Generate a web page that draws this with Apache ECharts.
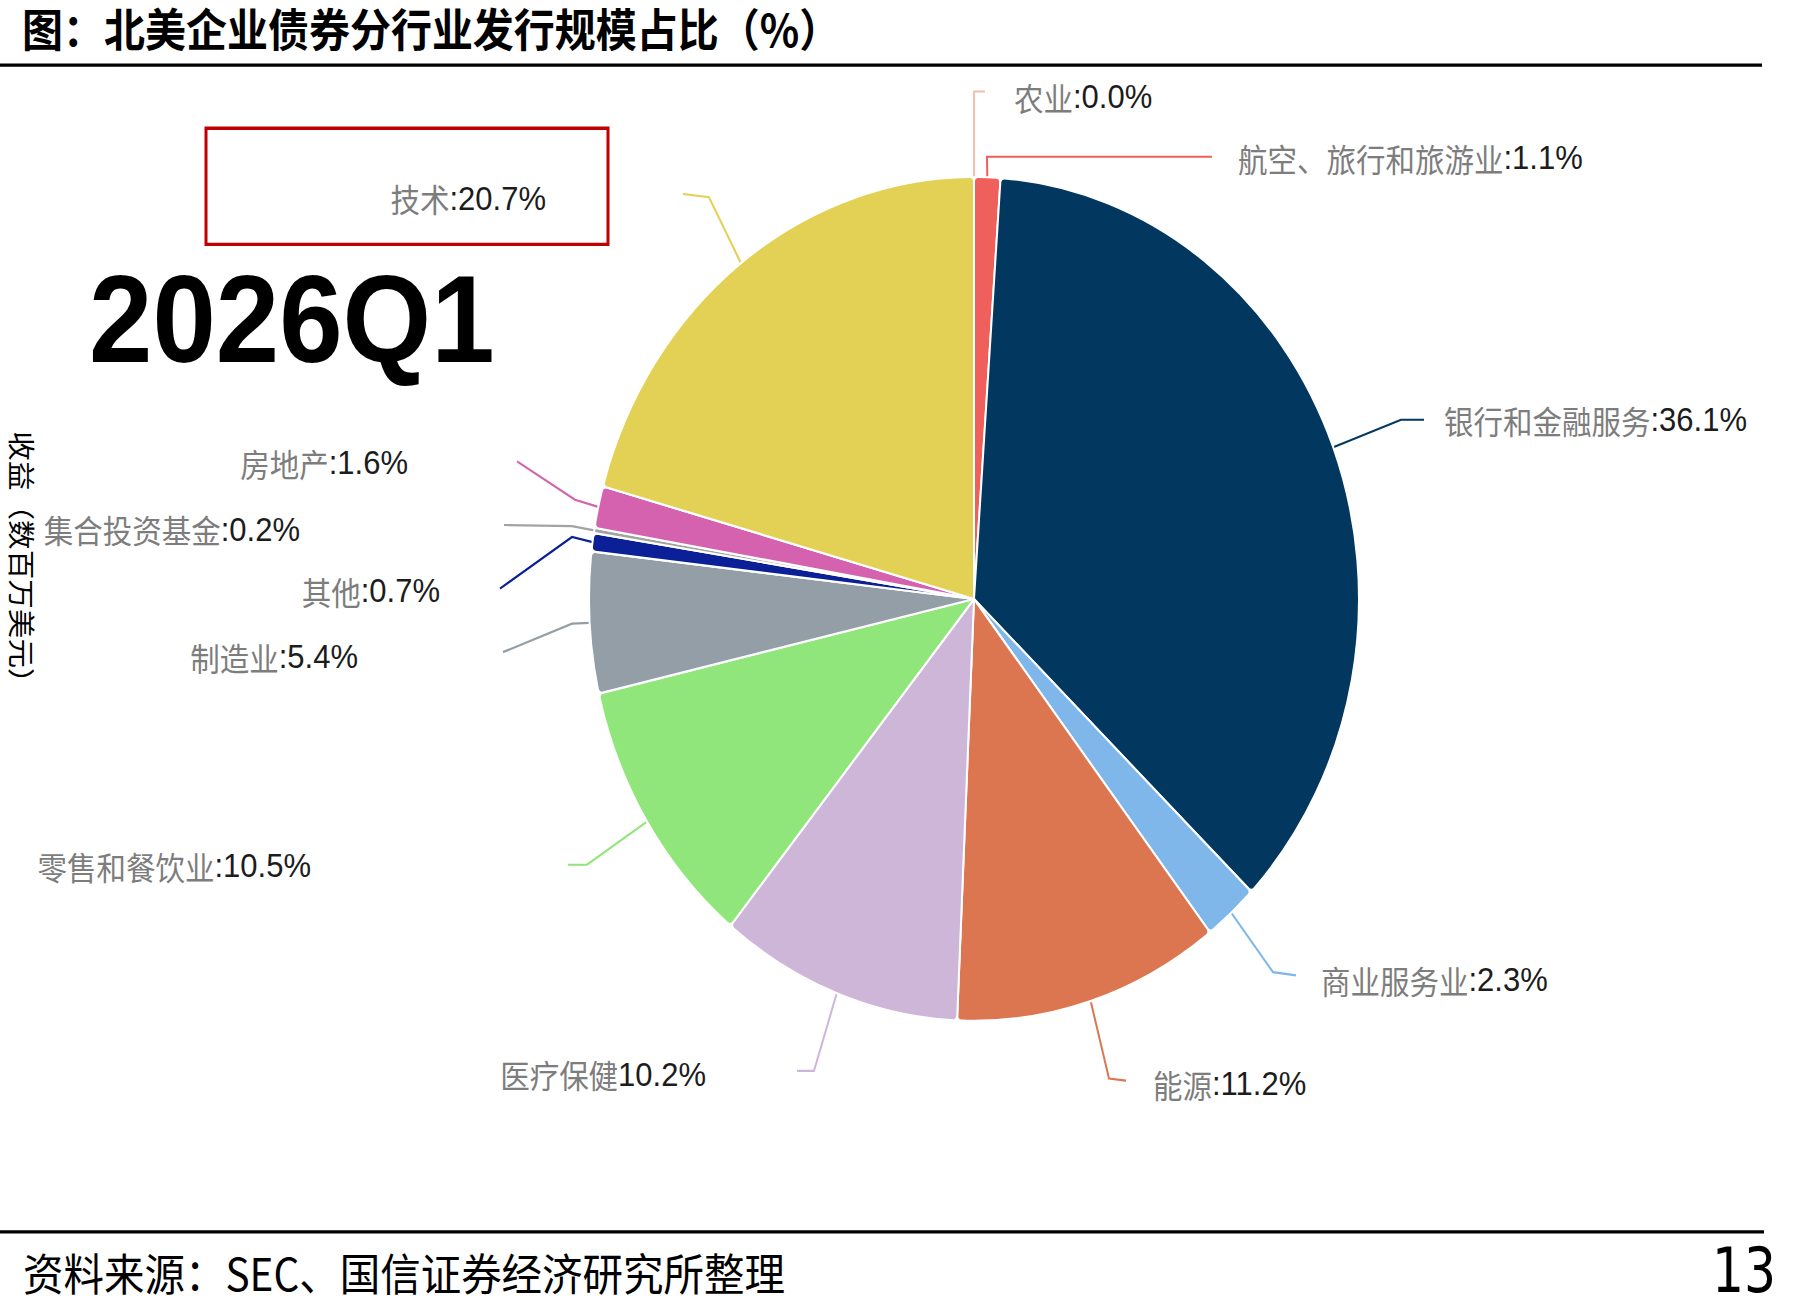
<!DOCTYPE html>
<html>
<head>
<meta charset="utf-8">
<title>北美企业债券分行业发行规模占比</title>
<script src="https://cdn.jsdelivr.net/npm/echarts@6/dist/echarts.min.js"></script>
<style>
  html, body { margin: 0; padding: 0; background: #fff; overflow: hidden; width: 1793px; height: 1307px; }
  /* the source picture is stretched vertically, so the whole chart is too */
  #chart { width: 1793px; height: 1193px; transform: scaleY(1.096); transform-origin: 0 0; }
</style>
</head>
<body>
<div id="chart"></div>
<script>
// sectors, clockwise from 12 o'clock
var sectors = ['农业', '航空、旅行和旅游业', '银行和金融服务', '商业服务业', '能源', '医疗保健',
  '零售和餐饮业', '制造业', '其他', '集合投资基金', '房地产', '技术'];
var shares = [0.0, 1.1, 36.1, 2.3, 11.2, 10.2, 10.5, 5.4, 0.7, 0.2, 1.6, 20.7];
var labelSeps = [':', ':', ':', ':', ':', '', ':', ':', ':', ':', ':', ':'];

var sliceColors = ['#f4bfa8', '#ef5f5c', '#02375f', '#7fb7eb', '#dc7650', '#cdb6d8',
  '#90e67b', '#939ea7', '#0b1f96', '#a3a3a3', '#d462ae', '#e3d155'];

// where each label sits (x, y, align) and the bend / end of its leader line
var labelPos = [
  [1014, 88, 'left'], [1238, 144, 'left'], [1444, 383, 'left'], [1321, 894, 'left'],
  [1153, 989, 'left'], [706, 980, 'right'], [311, 790, 'right'], [358, 599, 'right'],
  [440, 539, 'right'], [300, 483, 'right'], [408, 422, 'right'], [546, 181, 'right']
];
var lineBends = [
  [[974, 83.5], [985, 83.5]], [[987, 143], [1212, 143]], [[1401, 383], [1424, 383]],
  [[1273, 887], [1296, 890]], [[1109, 984], [1126, 986]], [[814, 977], [797, 977]],
  [[587, 789], [568, 789]], [[572, 569], [503, 595]], [[572, 490], [500, 537]],
  [[572, 480], [504, 479]], [[575, 456], [517, 421]], [[709, 180], [683, 177]]
];

var cjk = "'Noto Sans CJK SC', 'Noto Sans', sans-serif";
var latin = "'Liberation Sans', Arial, sans-serif";

var chart = echarts.init(document.getElementById('chart'), null, { renderer: 'svg' });

var pieData = sectors.map(function (name, i) {
  return { name: name, value: shares[i], itemStyle: { color: sliceColors[i] } };
});

var option = {
  animation: false,
  backgroundColor: '#fff',
  graphic: [
    {
      type: 'text', x: 22, y: 25,
      style: { text: '图：北美企业债券分行业发行规模占比（%）', font: 'bold 41px ' + cjk, fill: '#000', verticalAlign: 'middle' }
    },
    { type: 'line', shape: { x1: 0, y1: 59.5, x2: 1762, y2: 59.5 }, style: { stroke: '#000', lineWidth: 3 } },
    { type: 'line', shape: { x1: 0, y1: 1124, x2: 1764, y2: 1124 }, style: { stroke: '#000', lineWidth: 3 } },
    {
      type: 'text', x: 23, y: 1160,
      style: { text: '资料来源：SEC、国信证券经济研究所整理', font: '40.5px ' + cjk, fill: '#000', verticalAlign: 'middle' }
    },
    {
      type: 'text', x: 1776, y: 1159,
      style: { text: '13', font: "56px 'Liberation Sans Narrow', 'DejaVu Sans Condensed', sans-serif", fill: '#000', align: 'right', verticalAlign: 'middle' }
    },
    {
      type: 'text', x: 89, y: 291,
      style: { text: '2026Q1', font: 'bold 114px ' + latin, fill: '#000', verticalAlign: 'middle' }
    },
    {
      type: 'rect', shape: { x: 206, y: 117, width: 402, height: 106 },
      style: { fill: 'none', stroke: '#c00000', lineWidth: 3 }
    },
    {
      type: 'text', x: 23, y: 515, rotation: -Math.PI / 2,
      style: { text: '收益（数百万美元）', font: '27px ' + cjk, fill: '#000', align: 'center', verticalAlign: 'middle' }
    }
  ],
  series: [
    {
      type: 'pie',
      center: [974, 546.5],
      radius: 385,
      startAngle: 90,
      clockwise: true,
      avoidLabelOverlap: false,
      emphasis: { disabled: true },
      itemStyle: { borderColor: '#fff', borderWidth: 2, borderRadius: 4 },
      label: {
        show: true,
        formatter: function (p) {
          var i = p.dataIndex;
          return '{n|' + sectors[i] + '}{v|' + labelSeps[i] + shares[i].toFixed(1) + '%}';
        },
        rich: {
          n: { fontFamily: cjk, fontSize: 29.5, color: '#7d7d7d' },
          v: { fontFamily: latin, fontSize: 31, color: '#1c1c1c' }
        }
      },
      labelLine: { show: true, length: 20, length2: 20, lineStyle: { width: 2 } },
      labelLayout: function (params) {
        var i = params.dataIndex;
        var start = params.labelLinePoints ? params.labelLinePoints[0] : lineBends[i][0];
        return {
          x: labelPos[i][0],
          y: labelPos[i][1],
          align: labelPos[i][2],
          verticalAlign: 'middle',
          labelLinePoints: [start, lineBends[i][0], lineBends[i][1]]
        };
      },
      data: pieData
    }
  ]
};

chart.setOption(option);
</script>
</body>
</html>
